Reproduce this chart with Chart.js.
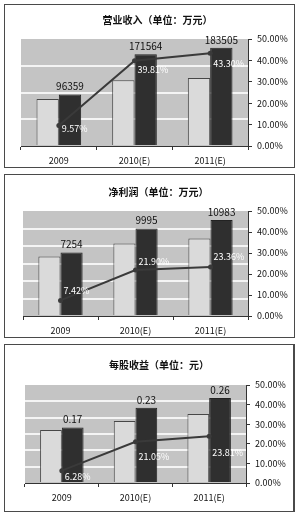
<!DOCTYPE html>
<html>
<head>
<meta charset="utf-8">
<script src="https://cdn.jsdelivr.net/npm/chart.js@4.4.0/dist/chart.umd.min.js"></script>
<style>
body { margin: 0; background: #fff; width: 300px; height: 516px; position: relative; overflow: hidden; }
.panel { position: absolute; border: 1px solid #4a4a4a; background: #fff; }
canvas { display: block; }
</style>
</head>
<body>
<div class="panel" style="left:4px;top:4px;"><canvas id="revenue-chart" width="289" height="162"></canvas></div>
<div class="panel" style="left:4px;top:174px;"><canvas id="profit-chart" width="289" height="162"></canvas></div>
<div class="panel" style="left:4px;top:344px;border-right-width:2px;"><canvas id="eps-chart" width="288" height="166"></canvas></div>
<script>
const years = ["2009", "2010(E)", "2011(E)"];

// 营业收入 (万元)
const revenue = [96359, 171564, 183505];
const revenueBase = [88000, 123000, 127000];
const revenueGrowth = [9.57, 39.81, 43.30];

// 净利润 (万元)
const profit = [7254, 9995, 10983];
const profitBase = [6800, 8300, 8870];
const profitGrowth = [7.42, 21.90, 23.36];

// 每股收益 (元)
const eps = [0.17, 0.23, 0.26];
const epsBase = [0.162, 0.19, 0.211];
const epsGrowth = [6.28, 21.05, 23.81];

const pctMax = 50;
const pctStep = 10;

const family = "'Noto Sans CJK SC', sans-serif";

function createPanel(canvas, p) {
    const W = canvas.width;
    const H = canvas.height;

    // fills the grey plot area behind the grid
    const plotBackground = {
        id: "plotBackground",
        beforeDraw(chart) {
            const a = chart.chartArea;
            chart.ctx.save();
            chart.ctx.fillStyle = "#c4c4c4";
            chart.ctx.fillRect(a.left, a.top, a.right - a.left, a.bottom - a.top);
            chart.ctx.restore();
        }
    };

    const labels = {
        id: "labels",
        afterDatasetsDraw(chart) {
            const ctx = chart.ctx;
            ctx.save();

            ctx.font = "10px " + family;
            ctx.fillStyle = "#111";
            ctx.textAlign = "center";
            ctx.textBaseline = "bottom";
            chart.getDatasetMeta(2).data.forEach((bar, i) => {
                ctx.fillText(String(p.values[i]), bar.x, bar.y - 3);
            });

            ctx.font = "9px " + family;
            ctx.fillStyle = "#fff";
            ctx.textAlign = "left";
            ctx.textBaseline = "middle";
            chart.getDatasetMeta(0).data.forEach((pt, i) => {
                ctx.fillText(p.growth[i].toFixed(2) + "%", pt.x + 3, pt.y + p.labelDy[i]);
            });

            ctx.restore();
        }
    };

    new Chart(canvas, {
        type: "bar",
        data: {
            labels: years,
            datasets: [
                {
                    type: "line",
                    data: p.growth,
                    yAxisID: "y1",
                    borderColor: "#3a3a3a",
                    borderWidth: 2,
                    pointRadius: 2.5,
                    pointBackgroundColor: "#3a3a3a",
                    pointBorderWidth: 0,
                    order: 0
                },
                {
                    data: p.base,
                    backgroundColor: "#dadada",
                    borderColor: "#474747",
                    borderWidth: 1,
                    order: 1
                },
                {
                    data: p.values,
                    backgroundColor: "#2f2f2f",
                    borderColor: "#222",
                    borderWidth: 1,
                    order: 1
                }
            ]
        },
        options: {
            responsive: false,
            animation: false,
            layout: { padding: { left: p.area.left, right: 0, top: 0, bottom: 0 } },
            datasets: { bar: { categoryPercentage: 0.59, barPercentage: 1 } },
            plugins: {
                legend: { display: false },
                tooltip: { enabled: false },
                title: {
                    display: true,
                    text: p.title,
                    color: "#111",
                    font: { family: family, size: 10, weight: "bold", lineHeight: 1.2 },
                    padding: { top: p.titleTop, bottom: p.area.top - p.titleTop - 12 }
                }
            },
            scales: {
                x: {
                    grid: { drawOnChartArea: false, drawTicks: true, tickLength: 4, color: "#333" },
                    border: { color: "#333" },
                    ticks: { color: "#111", font: { family: family, size: 9 }, padding: 5 },
                    afterFit: s => { s.height = H - p.area.bottom; }
                },
                y: {
                    min: 0,
                    max: p.max,
                    ticks: { stepSize: p.step, display: false },
                    grid: {
                        color: c => (c.index > 0 && c.index < c.scale.ticks.length - 1) ? "#f4f4f4" : "rgba(0,0,0,0)",
                        lineWidth: 2,
                        drawTicks: false
                    },
                    border: { display: false },
                    afterFit: s => { s.width = 0; }
                },
                y1: {
                    position: "right",
                    min: 0,
                    max: pctMax,
                    ticks: {
                        stepSize: pctStep,
                        callback: v => v.toFixed(2) + "%",
                        color: "#111",
                        font: { family: family, size: 9 },
                        padding: 5
                    },
                    grid: { drawOnChartArea: false, tickLength: 4, color: "#333" },
                    border: { color: "#333" },
                    afterFit: s => { s.width = W - p.area.right; }
                }
            }
        },
        plugins: [plotBackground, labels]
    });
}

createPanel(document.querySelector("#revenue-chart"), {
    title: "营业收入（单位：万元）",
    values: revenue,
    base: revenueBase,
    growth: revenueGrowth,
    max: 200000,
    step: 50000,
    area: { left: 16, right: 243, top: 34, bottom: 141 },
    titleTop: 9,
    labelDy: [3, 9, 10]
});

createPanel(document.querySelector("#profit-chart"), {
    title: "净利润（单位：万元）",
    values: profit,
    base: profitBase,
    growth: profitGrowth,
    max: 12000,
    step: 2000,
    area: { left: 18, right: 243, top: 36, bottom: 141 },
    titleTop: 11,
    labelDy: [-10, -8, -10]
});

createPanel(document.querySelector("#eps-chart"), {
    title: "每股收益（单位：元）",
    values: eps,
    base: epsBase,
    growth: epsGrowth,
    max: 0.3,
    step: 0.05,
    area: { left: 20, right: 241, top: 40, bottom: 138 },
    titleTop: 14,
    labelDy: [6, 15, 16]
});
</script>
</body>
</html>
